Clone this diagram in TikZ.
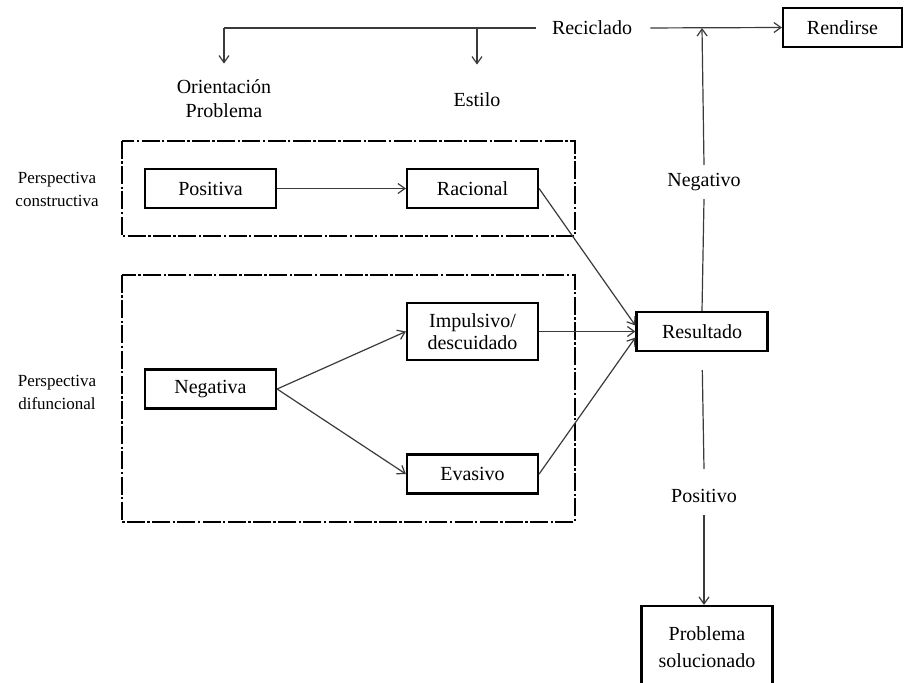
\documentclass[tikz,border=0pt]{standalone}
\usepackage{fontspec}
\setmainfont{Liberation Serif}
\usepackage{tikz}
\usetikzlibrary{arrows.meta,calc,positioning}
\definecolor{LineGray}{HTML}{3A3A3A}

\begin{document}
\begin{tikzpicture}[x=0.5pt,y=-0.5pt,
    box/.style={draw=black,line width=1.1pt,minimum width=65.5pt,minimum height=19.5pt,
                inner sep=1pt,align=center,font=\fontsize{10}{11}\selectfont},
    lbl/.style={inner sep=2pt,align=center,font=\fontsize{10}{12}\selectfont},
    side/.style={inner sep=1pt,align=center,font=\fontsize{8.5}{11.5}\selectfont},
    frame/.style={draw=black,line width=1.1pt,dash pattern=on 9pt off 1.2pt on 1.2pt off 1.2pt},
    flow/.style={draw=LineGray,line width=0.6pt,-{Straight Barb[length=3.5pt,width=5pt]}},
    plain/.style={draw=LineGray,line width=0.6pt}]
  \useasboundingbox (0,0) rectangle (905,682);

  % perspective frames
  \draw[frame] (122,141) rectangle (575,236);
  \draw[frame] (122,275) rectangle (575,522);
  \node[side] (constr) at (57,189) {Perspectiva\\constructiva};
  \node[side] (disf) at (57,392) {Perspectiva\\difuncional};

  % boxes
  \node[box] (positiva) at (210.5,188.5) {Positiva};
  \node[box] (racional) at (472.5,188.5) {Racional};
  \node[box,minimum height=28.5pt] (impulsivo) at (472.5,331.5) {Impulsivo/\\descuidado};
  \node[box] (negativa) at (210.5,389) {Negativa};
  \node[box] (evasivo) at (472.5,474) {Evasivo};
  \node[box] (resultado) at (702,331.5) {Resultado};
  \node[box,minimum width=59.5pt] (rendirse) at (842.5,27.5) {Rendirse};
  \node[box,minimum height=41pt,font=\fontsize{10}{13.5}\selectfont] (solucion) at (707,647) {Problema\\solucionado};

  % labels
  \node[lbl] (reciclado) at (592,28) {Reciclado};
  \node[lbl] (orientacion) at (224,99) {Orientación\\Problema};
  \node[lbl] (estilo) at (477,100) {Estilo};
  \node[lbl] (negativo) at (704,182) {Negativo};
  \node[lbl] (positivo) at (704,496) {Positivo};

  \coordinate (corner) at (224,28);
  \coordinate (split) at (477,28);
  \coordinate (join) at (resultado.north |- reciclado);

  % recycling loop
  \draw[plain,shorten <=6pt] (reciclado.west) -- (corner);
  \draw[flow] (corner) -- ([yshift=6pt]orientacion.north);
  \draw[flow] (split) -- ([yshift=12pt]estilo.north);
  \draw[flow,shorten <=7pt] (reciclado.east) -- (rendirse.west);
  \draw[plain] (resultado.north) -- ([yshift=-2pt]negativo.south);
  \draw[flow] ([yshift=2pt]negativo.north) -- (join);

  % flows
  \draw[flow] (positiva) -- (racional);
  \draw[flow] (negativa.east) -- (impulsivo.west);
  \draw[flow] (negativa.east) -- (evasivo.west);
  \draw[flow] (racional.east) -- ([yshift=3pt]resultado.west);
  \draw[flow] (impulsivo.east) -- (resultado.west);
  \draw[flow] (evasivo.east) -- ([yshift=-3pt]resultado.west);
  \draw[plain,shorten <=9pt] (resultado.south) -- ([yshift=8pt]positivo.north);
  \draw[flow] ([yshift=-4pt]positivo.south) -- (positivo.south |- solucion.north);
\end{tikzpicture}
\end{document}
